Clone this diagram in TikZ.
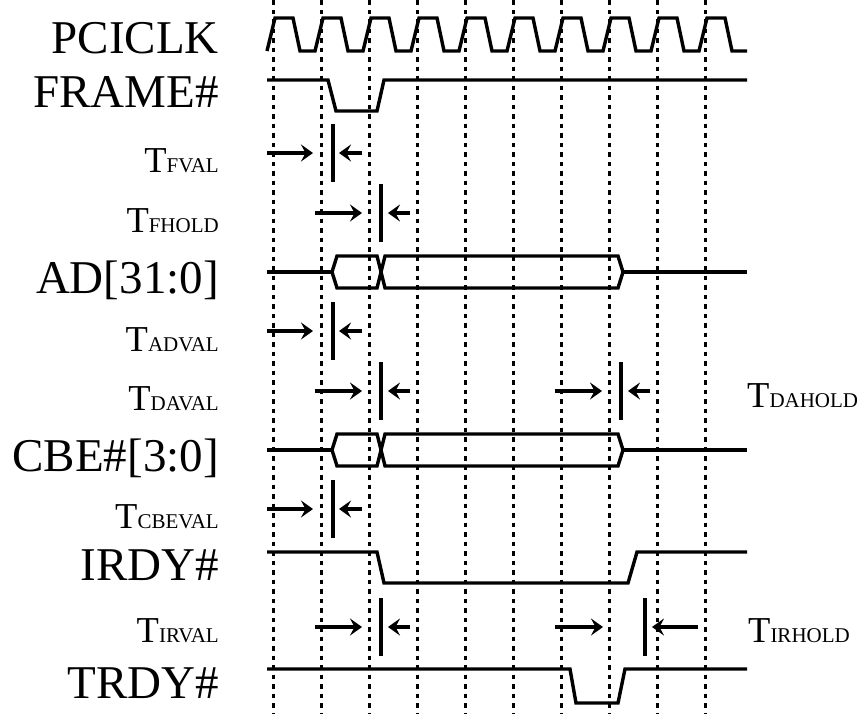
\documentclass[tikz,border=0pt]{standalone}
\usepackage{fontspec}
\setmainfont{Liberation Serif}
\usepackage{tikz}
\usetikzlibrary{arrows.meta}
\newcommand\tname[1]{{\fontsize{36.5}{36.5}\selectfont T}{\fontsize{21}{21}\selectfont #1}}
\tikzset{
  >={Stealth[length=12pt,width=17pt,inset=4.5pt]},
  grid/.style={line width=3pt,dash pattern=on 4.5pt off 5pt},
  sig/.style={line width=3.4pt,line join=miter},
  tarrow/.style={->,line width=3.2pt},
  tbar/.style={line width=3.4pt},
  siglabel/.style={anchor=base east,inner sep=0pt,font=\fontsize{47}{47}\selectfont},
  tlabel/.style={anchor=base east,inner sep=0pt},
  tlabelr/.style={anchor=base west,inner sep=0pt}
}
% right arrow, bar, left arrow at one height
\newcommand\tmark[6]{%
  \draw[tarrow] (#2,#1) -- (#3,#1);
  \draw[tbar] (#4,#1-29) -- (#4,#1+29);
  \draw[tarrow] (#5,#1) -- (#6,#1);}
\begin{document}
\begin{tikzpicture}[x=1pt,y=-1pt]
  \useasboundingbox (0,0) rectangle (859,713);
  % clock edges
  \foreach \k in {0,...,9}
    \draw[grid] (273+48*\k,0) -- (273+48*\k,713);
  % signal names
  \node[siglabel] (pciclk) at (219,53) {PCICLK};
  \node[siglabel] (frame) at (219,107) {FRAME\#};
  \node[tlabel] (tfval) at (219,172) {\tname{FVAL}};
  \node[tlabel] (tfhold) at (219,232) {\tname{FHOLD}};
  \node[siglabel] (ad) at (219,293) {AD[31:0]};
  \node[tlabel] (tadval) at (219,351) {\tname{ADVAL}};
  \node[tlabel] (tdaval) at (219,410) {\tname{DAVAL}};
  \node[tlabelr] (tdahold) at (747,407) {\tname{DAHOLD}};
  \node[siglabel] (cbe) at (219,471) {CBE\#[3:0]};
  \node[tlabel] (tcbeval) at (219,528) {\tname{CBEVAL}};
  \node[siglabel] (irdy) at (219,580) {IRDY\#};
  \node[tlabel] (tirval) at (219,642) {\tname{IRVAL}};
  \node[tlabelr] (tirhold) at (748,642) {\tname{IRHOLD}};
  \node[siglabel] (trdy) at (219,698) {TRDY\#};
  % waveforms
  \draw[sig] (267,51) \foreach \k in {0,...,9}{ -- ++(8,-33) -- ++(18,0) -- ++(7,33) -- ++(15,0)};
  \draw[sig] (267,80) -- (328,80) -- (336,111) -- (377,111) -- (384,80) -- (747,80);
  \foreach \y in {272,450}{
    \draw[sig] (267,\y) -- (332,\y);
    \draw[sig] (332,\y) -- (337,\y-16) -- (377,\y-16) -- (381,\y) -- (377,\y+16) -- (337,\y+16) -- cycle;
    \draw[sig] (381,\y) -- (385,\y-16) -- (618,\y-16) -- (623,\y) -- (618,\y+16) -- (385,\y+16) -- cycle;
    \draw[sig] (623,\y) -- (747,\y);
  }
  \draw[sig] (267,552) -- (377,552) -- (384,583) -- (628,583) -- (637,552) -- (747,552);
  \draw[sig] (267,669) -- (570,669) -- (576,703) -- (618,703) -- (625,669) -- (747,669);
  % timing marks
  \tmark{153}{267}{313}{333}{362}{339}
  \tmark{213}{315}{362}{381}{410}{388}
  \tmark{331}{267}{313}{333}{362}{339}
  \tmark{391}{315}{362}{381}{410}{388}
  \tmark{391}{555}{602}{621}{650}{628}
  \tmark{509}{267}{313}{333}{362}{339}
  \tmark{627}{315}{362}{381}{410}{388}
  \tmark{627}{555}{603}{645}{698}{652}
\end{tikzpicture}
\end{document}
